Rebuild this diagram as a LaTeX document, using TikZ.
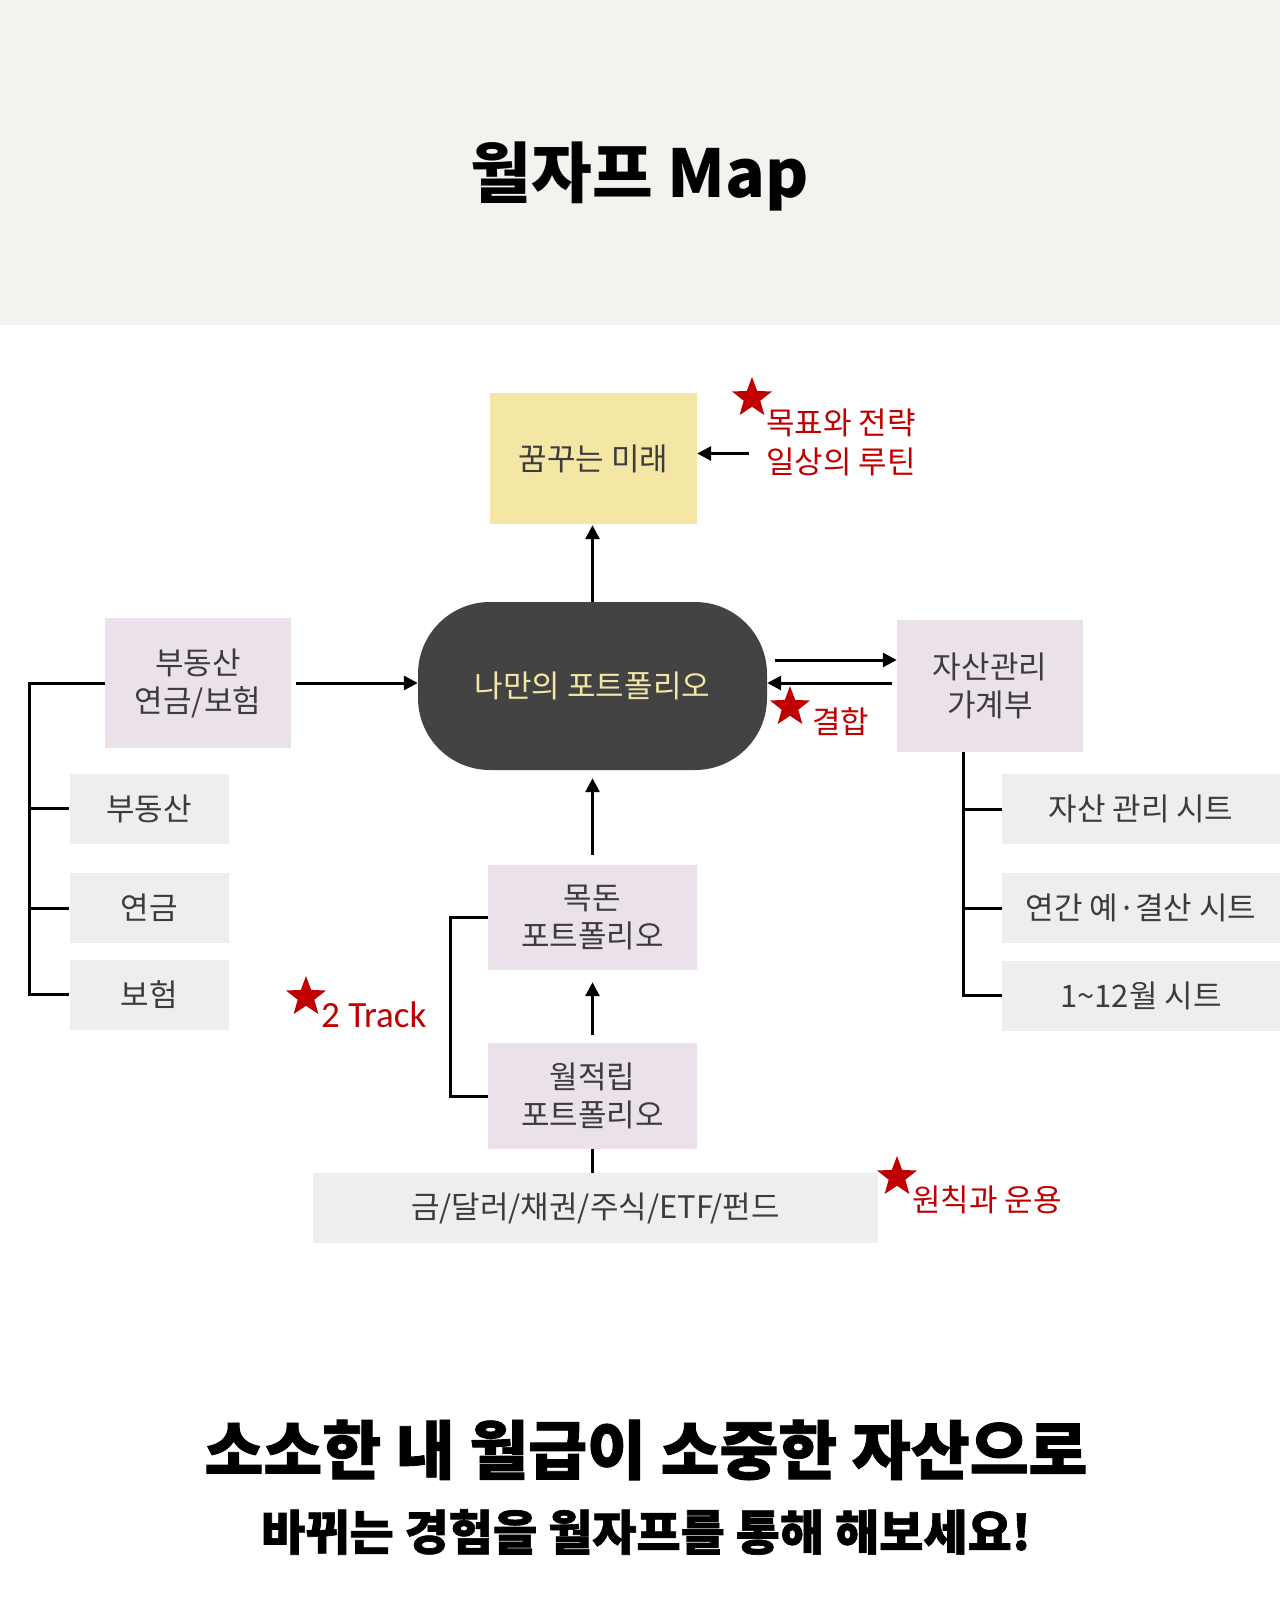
\documentclass[tikz,border=0pt]{standalone}
\usepackage{fontspec}
\setmainfont{Noto Sans CJK KR}
\newfontfamily\trackfont{Carlito}
\newfontfamily\heavyfont[BoldFeatures={FakeBold=1.3}]{Noto Sans CJK KR}
\usepackage{xcolor}
\usepackage{tikz}
\usetikzlibrary{positioning,arrows.meta,calc,shapes.geometric}
\definecolor{ink}{HTML}{000000}
\definecolor{boxtext}{HTML}{3C3C3C}
\definecolor{band}{HTML}{F3F2EF}
\definecolor{dreamfill}{HTML}{F4E7A6}
\definecolor{pinkfill}{HTML}{EAE1EA}
\definecolor{greyfill}{HTML}{EFEEEF}
\definecolor{corefill}{HTML}{434343}
\definecolor{coretext}{HTML}{F3E6A6}
\definecolor{accent}{HTML}{C00000}
\newcommand{\boxfont}{\fontsize{31}{38}\selectfont}

\begin{document}
\begin{tikzpicture}[x=1pt,y=-1pt,
    base/.style={inner sep=0pt, align=center, font=\boxfont, text=boxtext},
    pinkbox/.style={base, fill=pinkfill, minimum width=186pt, minimum height=130pt},
    greybox/.style={base, fill=greyfill, minimum height=70pt},
    link/.style={line width=3pt, draw=ink},
    arr/.style={link, -{Triangle[length=14pt,width=14pt]}},
    redstar/.style={star, star points=5, star point ratio=2.4, fill=accent, inner sep=0pt, minimum size=42pt},
    note/.style={text=accent, font=\fontsize{31}{39}\selectfont, align=left, inner sep=0pt}]
  \useasboundingbox (0,0) rectangle (1280,1600);
  \fill[white] (0,0) rectangle (1280,1600);
  \fill[band] (0,0) rectangle (1280,325);

  \node[font=\bfseries\fontsize{66}{70}\selectfont] (title) at (640,176) {월자프 Map};

  \node[base, fill=dreamfill, minimum width=207pt, minimum height=131pt] (dream) at (593.5,458.5) {꿈꾸는 미래};
  \node[base, fill=corefill, text=coretext, rounded corners=72pt, minimum width=349pt, minimum height=168pt] (core) at (592.5,686) {나만의 포트폴리오};
  \node[pinkbox] (realty) at (198,683) {부동산\\연금/보험};
  \node[greybox, minimum width=159pt] (re) at (149,808.5) {부동산};
  \node[greybox, minimum width=159pt] (pension) at (149,908) {연금};
  \node[greybox, minimum width=159pt] (ins) at (149,994.5) {보험};
  \node[pinkbox, minimum height=132pt] (ledger) at (990,686) {자산관리\\가계부};
  \node[greybox, minimum width=278pt] (sheet) at (1141,809) {자산 관리 시트};
  \node[greybox, minimum width=278pt] (budget) at (1141,908) {연간 예·결산 시트};
  \node[greybox, minimum width=278pt] (month) at (1141,995.5) {1\textasciitilde12월 시트};
  \node[pinkbox, minimum width=209pt, minimum height=105pt] (lump) at (592.5,917.5) {목돈\\포트폴리오};
  \node[pinkbox, minimum width=209pt, minimum height=106pt] (monthly) at (592.5,1096) {월적립\\포트폴리오};
  \node[greybox, minimum width=565pt] (assets) at (595.5,1208) {금/달러/채권/주식/ETF/펀드};

  \node[redstar] (star1) at (752,398) {};
  \node[note, anchor=west] (goal) at (766,442) {목표와 전략\\일상의 루틴};
  \node[redstar] (star2) at (790,707) {};
  \node[note, anchor=west] (bond) at (812,722) {결합};
  \node[redstar] (star3) at (306,997) {};
  \node[note, anchor=base west, font=\trackfont\fontsize{37}{42}\selectfont] (track) at (321,1027) {2 Track};
  \node[redstar] (star4) at (897,1177) {};
  \node[note, anchor=west] (rule) at (912,1200) {원칙과 운용};

  \draw[arr] ($(goal.west |- dream.east)+(-17,-5)$) -- ($(dream.east)+(0,-5)$);
  \draw[arr, shorten >=1pt] (core.north) -- (core.north |- dream.south);
  \draw[arr] ($(realty.east)+(5,0)$) -- (realty.east -| core.west);
  \draw[arr] ($(core.east)+(8,-26)$) -- ($(ledger.west)+(0,-26)$);
  \draw[arr] ($(ledger.west)+(-5,-3)$) -- ($(core.east)+(0,-3)$);
  \draw[arr, shorten <=10pt, shorten >=8pt] (lump.north) -- (core.south);
  \draw[arr, shorten <=8pt, shorten >=12pt] (monthly.north) -- (lump.south);
  \draw[link] (monthly.south) -- (monthly.south |- assets.north);
  \draw[link] (lump.west) -- ++(-37,0) |- (monthly.west);

  \coordinate (lrail) at ($(realty.west)+(-75,0)$);
  \draw[link] (realty.west) -- (lrail) |- (ins.west);
  \draw[link] (lrail |- re.west) -- (re.west);
  \draw[link] (lrail |- pension.west) -- (pension.west);

  \coordinate (rrail) at ($(ledger.south)+(-27,0)$);
  \draw[link] (rrail) |- (month.west);
  \draw[link] (rrail |- sheet.west) -- (sheet.west);
  \draw[link] (rrail |- budget.west) -- (budget.west);

  \node[font=\heavyfont\bfseries\fontsize{64}{68}\selectfont] (slogan) at (646,1450) {소소한 내 월급이 소중한 자산으로};
  \node[font=\heavyfont\bfseries\fontsize{48}{52}\selectfont] (subline) at (646,1532) {바뀌는 경험을 월자프를 통해 해보세요!};
\end{tikzpicture}
\end{document}
